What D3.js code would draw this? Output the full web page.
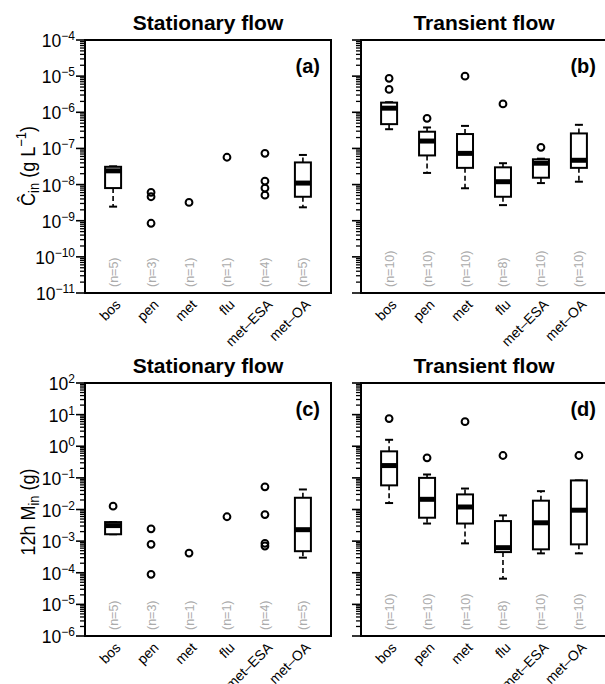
<!DOCTYPE html>
<html lang="en">
<head>
<meta charset="UTF-8">
<title>Stationary vs transient flow</title>
<script src="https://d3js.org/d3.v7.min.js"></script>
<style>
  body { margin: 0; background: #fff; }
  svg { display: block; font-family: "Liberation Sans", Arial, Helvetica, sans-serif; }
  .box { fill: #fff; stroke: #000; stroke-width: 2; }
  .med { stroke: #000; stroke-width: 5; }
  .whisk { stroke: #000; stroke-width: 1.6; stroke-dasharray: 5,3; }
  .cap { stroke: #000; stroke-width: 2; }
  .out { fill: none; stroke: #000; stroke-width: 2; }
  .nlab { fill: #ababab; font-size: 12.5px; }
</style>
</head>
<body>
<div id="chart"></div>
<script>
const categories = ["bos", "pen", "met", "flu", "met\u2013ESA", "met\u2013OA"];
const nStationary = [5, 3, 1, 1, 4, 5];
const nTransient = [10, 10, 10, 8, 10, 10];

// box stats: [lower whisker, q1, median, q3, upper whisker]; null = points only
const boxA = [
  [2.45e-9, 8e-9, 2.4e-8, 3.1e-8, 3.2e-8], null, null, null, null,
  [2.35e-9, 4.6e-9, 1.1e-8, 4.1e-8, 6.6e-8]
];
const ptsA = [[], [6.1e-9, 4.6e-9, 8.5e-10], [3.2e-9], [5.7e-8], [7.3e-8, 1.25e-8, 8e-9, 5.1e-9], []];

const boxB = [
  [3.4e-7, 4.7e-7, 1.3e-6, 1.85e-6, 1.9e-6],
  [2.1e-8, 6.4e-8, 1.6e-7, 2.9e-7, 3.8e-7],
  [7.9e-9, 2.9e-8, 7.3e-8, 2.5e-7, 4.2e-7],
  [2.7e-9, 4.6e-9, 1.2e-8, 3e-8, 3.9e-8],
  [1.1e-8, 1.55e-8, 3.9e-8, 5e-8, 5.2e-8],
  [1.2e-8, 2.9e-8, 4.7e-8, 2.6e-7, 4.5e-7]
];
const ptsB = [[8.7e-6, 4.3e-6], [6.8e-7], [1e-5], [1.7e-6], [1.07e-7], []];

const boxC = [
  [1.65e-3, 1.65e-3, 3.1e-3, 4e-3, 4e-3], null, null, null, null,
  [3e-4, 4.8e-4, 2.3e-3, 2.35e-2, 4.3e-2]
];
const ptsC = [[1.27e-2], [2.45e-3, 7.9e-4, 8.9e-5], [4.2e-4], [5.9e-3], [5.2e-2, 6.9e-3, 8.5e-4, 7e-4], []];

const boxD = [
  [1.6e-2, 5.8e-2, 0.245, 0.69, 1.6],
  [3.6e-3, 5.5e-3, 2.1e-2, 0.1, 0.128],
  [8.5e-4, 3.6e-3, 1.2e-2, 3e-2, 4.6e-2],
  [6.5e-5, 4.5e-4, 6.2e-4, 4.3e-3, 6.5e-3],
  [4.1e-4, 5.5e-4, 3.8e-3, 1.9e-2, 3.8e-2],
  [4.1e-4, 7.9e-4, 9.5e-3, 8.3e-2, 8.3e-2]
];
const ptsD = [[7.5], [0.43], [6], [0.51], [], [0.51]];

const rangeConc = [1e-11, 1e-4];
const rangeMass = [1e-6, 1e2];

const W = 605, H = 684;
const pw = 246, ph = 253;

const svg = d3.select("#chart").append("svg").attr("width", W).attr("height", H);

function supLabel(sel, base, exp, expSize) {
  sel.append("tspan").text(base);
  sel.append("tspan").attr("dy", -7).attr("font-size", expSize).text(exp);
}

function panel(px, py, range, boxes, pts, ns, title, tag, showTicks) {
  const g = svg.append("g").attr("transform", `translate(${px},${py})`);
  const x = d3.scaleLinear().domain([0.26, 6.74]).range([0, pw]);
  const y = d3.scaleLog().domain(range).range([ph, 0]);

  // ticks (major decades + minor 2..9)
  const lo = Math.round(Math.log10(range[0])), hi = Math.round(Math.log10(range[1]));
  const minor = [];
  for (let k = lo; k < hi; k++) for (let m = 2; m <= 9; m++) minor.push(m * Math.pow(10, k));
  const major = d3.range(lo, hi + 1).map(k => Math.pow(10, k));
  g.selectAll(".mn").data(minor).enter().append("line")
    .attr("x1", -5).attr("x2", 0).attr("y1", d => y(d)).attr("y2", d => y(d))
    .attr("stroke", "#000").attr("stroke-width", 1.3);
  g.selectAll(".mj").data(major).enter().append("line")
    .attr("x1", -9).attr("x2", 0).attr("y1", d => y(d)).attr("y2", d => y(d))
    .attr("stroke", "#000").attr("stroke-width", 1.6);
  if (showTicks) {
    g.selectAll(".tl").data(major).enter().append("text")
      .attr("x", -10).attr("y", d => y(d) + 7)
      .attr("text-anchor", "end").attr("font-size", 17.5)
      .each(function (d) {
        const e = Math.round(Math.log10(d));
        supLabel(d3.select(this), "10", (e < 0 ? "\u2212" : "") + Math.abs(e), 12);
      });
  }

  // boxes
  boxes.forEach((b, i) => {
    if (!b) return;
    const cx = x(i + 1), hw = 8, cw = 4;
    const gb = g.append("g");
    if (b[0] < b[1]) {
      gb.append("line").attr("class", "whisk").attr("x1", cx).attr("x2", cx).attr("y1", y(b[1])).attr("y2", y(b[0]));
    }
    if (b[4] > b[3]) {
      gb.append("line").attr("class", "whisk").attr("x1", cx).attr("x2", cx).attr("y1", y(b[3])).attr("y2", y(b[4]));
    }
    gb.append("line").attr("class", "cap").attr("x1", cx - cw).attr("x2", cx + cw).attr("y1", y(b[0])).attr("y2", y(b[0]));
    gb.append("line").attr("class", "cap").attr("x1", cx - cw).attr("x2", cx + cw).attr("y1", y(b[4])).attr("y2", y(b[4]));
    gb.append("rect").attr("class", "box").attr("x", cx - hw).attr("width", 2 * hw)
      .attr("y", y(b[3])).attr("height", y(b[1]) - y(b[3]));
    gb.append("line").attr("class", "med").attr("x1", cx - hw).attr("x2", cx + hw).attr("y1", y(b[2])).attr("y2", y(b[2]));
  });

  // outliers / single points
  pts.forEach((arr, i) => {
    g.selectAll(null).data(arr).enter().append("circle").attr("class", "out")
      .attr("cx", x(i + 1)).attr("cy", d => y(d)).attr("r", 3.4);
  });

  // n labels
  ns.forEach((n, i) => {
    g.append("text").attr("class", "nlab")
      .attr("transform", `translate(${x(i + 1) + 4.5},${ph - 6}) rotate(-90)`)
      .text(`(n=${n})`);
  });

  // frame
  g.append("rect").attr("width", pw).attr("height", ph).attr("fill", "none").attr("stroke", "#000").attr("stroke-width", 2);

  // category labels
  categories.forEach((c, i) => {
    g.append("text").attr("font-size", 14).attr("text-anchor", "end")
      .attr("transform", `translate(${x(i + 1) + 5},${ph + 9}) rotate(-45)`)
      .attr("dy", "0.35em").text(c);
  });

  g.append("text").attr("x", pw / 2).attr("y", -10).attr("text-anchor", "middle")
    .attr("font-size", 21).attr("font-weight", "bold").text(title);
  g.append("text").attr("x", pw - 11).attr("y", 33).attr("text-anchor", "end")
    .attr("font-size", 20).attr("font-weight", "bold").text(tag);
  return g;
}

panel(85, 40, rangeConc, boxA, ptsA, nStationary, "Stationary flow", "(a)", true);
panel(361, 40, rangeConc, boxB, ptsB, nTransient, "Transient flow", "(b)", false);
panel(85, 383, rangeMass, boxC, ptsC, nStationary, "Stationary flow", "(c)", true);
panel(361, 383, rangeMass, boxD, ptsD, nTransient, "Transient flow", "(d)", false);

// y axis titles
const yl1 = svg.append("text").attr("transform", "translate(35,166) scale(1.12,1) rotate(-90)")
  .attr("text-anchor", "middle").attr("font-size", 18);
yl1.append("tspan").text("\u0108");
yl1.append("tspan").attr("font-size", 13).attr("dy", 4).text("in");
yl1.append("tspan").attr("dy", -4).text(" (g L");
yl1.append("tspan").attr("font-size", 13).attr("dy", -8).text("\u22121");
yl1.append("tspan").attr("dy", 8).text(")");

const yl2 = svg.append("text").attr("transform", "translate(35,512) scale(1.12,1) rotate(-90)")
  .attr("text-anchor", "middle").attr("font-size", 18);
yl2.append("tspan").text("12h M");
yl2.append("tspan").attr("font-size", 13).attr("dy", 4).text("in");
yl2.append("tspan").attr("dy", -4).text(" (g)");
</script>
</body>
</html>
